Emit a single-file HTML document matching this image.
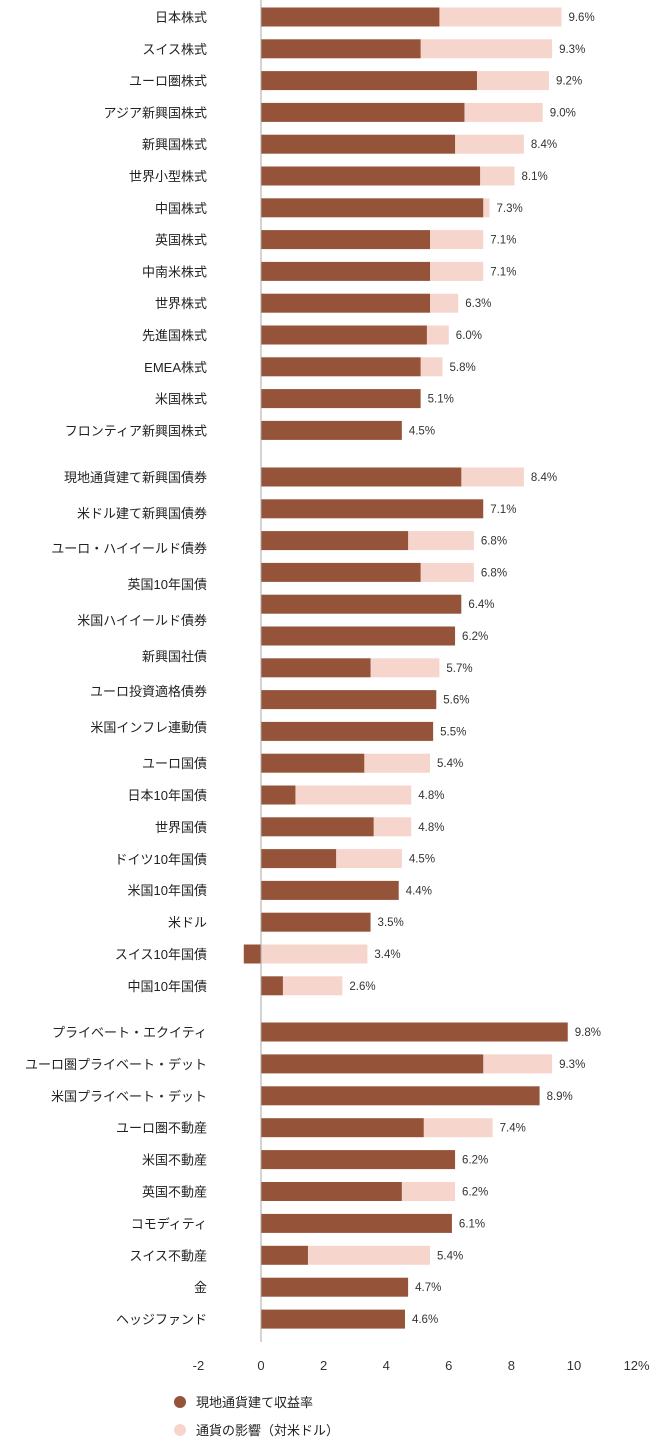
<!DOCTYPE html>
<html><head><meta charset="utf-8"><style>
body{margin:0;background:#fff;width:671px;height:1449px;position:relative;overflow:hidden;font-family:"Liberation Sans","Noto Sans CJK JP",sans-serif}
</style></head><body>
<svg id="c" width="671" height="1449" style="position:absolute;left:0;top:0"></svg>
<script>
const cats1=["日本株式","スイス株式","ユーロ圏株式","アジア新興国株式","新興国株式","世界小型株式","中国株式","英国株式","中南米株式","世界株式","先進国株式","EMEA株式","米国株式","フロンティア新興国株式"];
const total1=[9.6,9.3,9.2,9.0,8.4,8.1,7.3,7.1,7.1,6.3,6.0,5.8,5.1,4.5];
const local1=[5.7,5.1,6.9,6.5,6.2,7.0,7.1,5.4,5.4,5.4,5.3,5.1,5.1,4.5];
const cats2=["現地通貨建て新興国債券","米ドル建て新興国債券","ユーロ・ハイイールド債券","英国10年国債","米国ハイイールド債券","新興国社債","ユーロ投資適格債券","米国インフレ連動債","ユーロ国債","日本10年国債","世界国債","ドイツ10年国債","米国10年国債","米ドル","スイス10年国債","中国10年国債"];
const total2=[8.4,7.1,6.8,6.8,6.4,6.2,5.7,5.6,5.5,5.4,4.8,4.8,4.5,4.4,3.5,3.4,2.6];
const local2=[6.4,7.1,4.7,5.1,6.4,6.2,3.5,5.6,5.5,3.3,1.1,3.6,2.4,4.4,3.5,-0.55,0.7];
const labelY2=[477,513,548,584,620,656,691,727,763,795,827,859,890,922,954,986];
const cats3=["プライベート・エクイティ","ユーロ圏プライベート・デット","米国プライベート・デット","ユーロ圏不動産","米国不動産","英国不動産","コモディティ","スイス不動産","金","ヘッジファンド"];
const total3=[9.8,9.3,8.9,7.4,6.2,6.2,6.1,5.4,4.7,4.6];
const local3=[9.8,7.1,8.9,5.2,6.2,4.5,6.1,1.5,4.7,4.6];
const ticks=[-2,0,2,4,6,8,10,12];
const DARK="#95533a",LIGHT="#f6d6cc";
const svg=document.getElementById('c');const NS="http://www.w3.org/2000/svg";
const X=v=>261+v*31.3;
function el(t,a,txt){const e=document.createElementNS(NS,t);for(const k in a)e.setAttribute(k,a[k]);if(txt!==undefined)e.textContent=txt;svg.appendChild(e);return e;}
function bars(total,local,y0,step,g){
  total.forEach((t,i)=>{const y=y0+i*step,l=local[i];
    const lo=Math.max(l,0);
    if(t>lo){const r=el('rect',{x:X(lo),y:y-9.5,width:X(t)-X(lo),height:19,fill:LIGHT});
      
      }
    const d=el('rect',{x:Math.min(X(0),X(l)),y:y-9.5,width:Math.abs(X(l)-X(0)),height:19,fill:DARK});
    
    
    const tx=el('text',{x:X(Math.max(t,l))+7,y:y+4,'font-size':11.5,fill:'#333'},t.toFixed(1)+'%');
    
    
  });
}
function labels(cats,ys,g){cats.forEach((c,i)=>{const t=el('text',{x:207,y:ys[i]+5,'text-anchor':'end','font-size':13,fill:'#222'},c);
  
  });}
bars(total1,local1,17,31.8,1);labels(cats1,cats1.map((_,i)=>17+i*31.8),1);
bars(total2,local2,477,31.8,2);labels(cats2,labelY2,2);
bars(total3,local3,1032,31.9,3);labels(cats3,cats3.map((_,i)=>1032+i*31.9),3);
const ax=el('line',{x1:261,y1:0,x2:261,y2:1342,stroke:'#aaa','stroke-width':1});


ticks.forEach((v,i)=>{const t=el('text',{x:X(v),y:1370,'text-anchor':'middle','font-size':13,fill:'#333'},v+(v===12?'%':''));
  
  });
const c1=el('circle',{cx:180,cy:1402,r:6,fill:DARK});
const l1=el('text',{x:196,y:1407,'font-size':13,fill:'#222'},'現地通貨建て収益率');
const c2=el('circle',{cx:180,cy:1430,r:6,fill:LIGHT});
const l2=el('text',{x:196,y:1435,'font-size':13,fill:'#222'},'通貨の影響（対米ドル）');
</script>
</body></html>
